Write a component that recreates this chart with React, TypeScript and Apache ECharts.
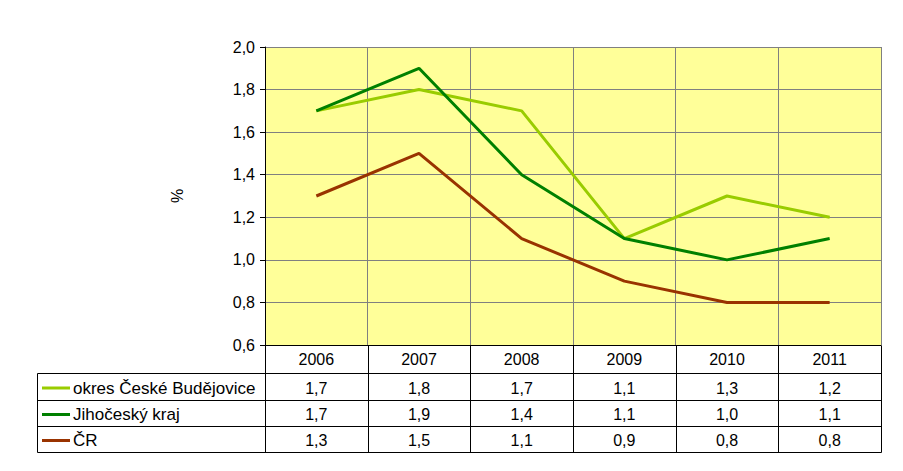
import React, { useEffect, useRef } from "react";
import * as echarts from "echarts";

const categories = ["2006", "2007", "2008", "2009", "2010", "2011"];
const seriesNames = ["okres České Budějovice", "Jihočeský kraj", "ČR"];
const okresValues = [1.7, 1.8, 1.7, 1.1, 1.3, 1.2];
const krajValues = [1.7, 1.9, 1.4, 1.1, 1.0, 1.1];
const crValues = [1.3, 1.5, 1.1, 0.9, 0.8, 0.8];
const yTicks = { min: 0.6, max: 2.0, interval: 0.2 };

const allValues = [okresValues, krajValues, crValues];
const colors = ["#99CC00", "#008000", "#993300"];
const FONT = "'Liberation Sans', Arial, sans-serif";
const fmt = (v: number) => v.toFixed(1).replace(".", ",");

export default function App() {
  const ref = useRef<HTMLDivElement>(null);
  useEffect(() => {
    document.body.style.margin = "0";
    const chart = echarts.init(ref.current!, null, { renderer: "svg" });
    const option: any = {
      animation: false,
      backgroundColor: "#ffffff",
      textStyle: { fontFamily: FONT },
      grid: {
        left: 265,
        top: 47,
        width: 616,
        height: 298,
        show: true,
        backgroundColor: "#FFFF99",
        borderWidth: 0,
      },
      xAxis: {
        type: "category",
        data: categories,
        boundaryGap: true,
        axisLine: { show: true, lineStyle: { color: "#000", width: 1 } },
        axisTick: { show: false },
        axisLabel: { color: "#000", fontSize: 16, fontFamily: FONT, margin: 6, interval: 0 },
        splitLine: { show: true, interval: 0, lineStyle: { color: "#808080", width: 1 } },
      },
      yAxis: {
        type: "value",
        min: yTicks.min,
        max: yTicks.max,
        interval: yTicks.interval,
        name: "%",
        nameLocation: "middle",
        nameRotate: 90,
        nameGap: 80,
        nameTextStyle: { color: "#000", fontSize: 16, fontFamily: FONT },
        axisLine: { show: true, lineStyle: { color: "#000", width: 1 } },
        axisTick: { show: true, length: 5, lineStyle: { color: "#000" } },
        axisLabel: { color: "#000", fontSize: 16, fontFamily: FONT, margin: 10, formatter: fmt },
        splitLine: { show: true, lineStyle: { color: "#808080", width: 1 } },
      },
      series: seriesNames.map((name, i) => ({
        name,
        type: "line",
        data: allValues[i],
        symbol: "none",
        lineStyle: { color: colors[i], width: 3 },
        itemStyle: { color: colors[i] },
      })),
    };
    chart.setOption(option);

    const cx = categories.map((c) => chart.convertToPixel({ xAxisIndex: 0 }, c) as number);
    const step = cx[1] - cx[0];
    const bounds = [0, 1, 2, 3, 4, 5, 6].map((k) => Math.round(cx[0] - step / 2 + k * step) + 0.5);
    const yB = Math.round(chart.convertToPixel({ yAxisIndex: 0 }, yTicks.min) as number) + 0.5;
    const tableLeft = 37.5;
    const headTop = yB;
    const rowTops = [373.5, 400.5, 426.5, 452.5];
    const right = bounds[bounds.length - 1];

    const elems: any[] = [];
    const line = (x1: number, y1: number, x2: number, y2: number) =>
      elems.push({
        type: "line",
        shape: { x1, y1, x2, y2 },
        style: { stroke: "#000", lineWidth: 1 },
        silent: true,
      });
    bounds.forEach((b) => line(b, headTop, b, rowTops[3]));
    line(tableLeft, rowTops[0], tableLeft, rowTops[3]);
    rowTops.forEach((y) => line(tableLeft, y, right, y));

    seriesNames.forEach((name, r) => {
      const cy = (rowTops[r] + rowTops[r + 1]) / 2 + 1;
      elems.push({
        type: "line",
        shape: { x1: 42, y1: cy, x2: 70, y2: cy },
        style: { stroke: colors[r], lineWidth: 3 },
        silent: true,
      });
      elems.push({
        type: "text",
        x: 73,
        y: cy,
        style: { text: name, fill: "#000", font: `17px ${FONT}`, align: "left", verticalAlign: "middle" },
        silent: true,
      });
      allValues[r].forEach((v, i) => {
        elems.push({
          type: "text",
          x: cx[i],
          y: cy,
          style: { text: fmt(v), fill: "#000", font: `16px ${FONT}`, align: "center", verticalAlign: "middle" },
          silent: true,
        });
      });
    });

    chart.setOption({ graphic: elems });
    return () => chart.dispose();
  }, []);
  return <div ref={ref} style={{ width: 903, height: 471 }} />;
}
